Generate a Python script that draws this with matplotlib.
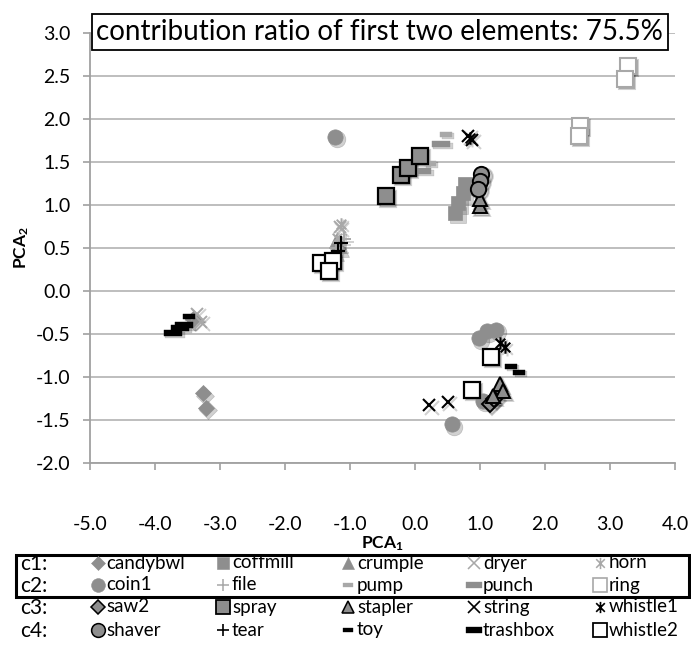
import matplotlib
matplotlib.use("Agg")
import matplotlib.pyplot as plt
from matplotlib.path import Path
from matplotlib.patches import Rectangle
from matplotlib.transforms import ScaledTranslation
from matplotlib.lines import Line2D

plt.rcParams['font.family'] = ['Lato', 'DejaVu Sans']
plt.rcParams['mathtext.fontset'] = 'custom'
plt.rcParams['mathtext.rm'] = 'Lato'
plt.rcParams['mathtext.bf'] = 'Lato:bold'

# ---- PCA scores per sound class (PC1, PC2) ----
candybwl_pc1 = [-3.26, -3.22, -3.42]
candybwl_pc2 = [-1.19, -1.36, -0.33]
coffmill_pc1 = [0.62, 0.66, 0.74, 0.77]
coffmill_pc2 = [0.91, 1.02, 1.14, 1.24]
crumple_pc1 = [-1.21, -1.17, -1.25]
crumple_pc2 = [0.58, 0.52, 0.47]
dryer_pc1 = [-3.35, -3.30, -1.15]
dryer_pc2 = [-0.27, -0.36, 0.74]
horn_pc1 = [-1.14, -1.20]
horn_pc2 = [0.78, 0.62]

coin1_pc1 = [-1.23, 1.10, 1.25, 0.98, 0.57, 1.05]
coin1_pc2 = [1.79, -0.47, -0.45, -0.55, -1.55, -1.28]
file_pc1 = [-1.22, -1.10]
file_pc2 = [0.50, 0.60]
pump_pc1 = [0.48, 0.23]
pump_pc2 = [1.83, 1.49]
punch_pc1 = [0.40, 0.10]
punch_pc2 = [1.71, 1.40]
ring_pc1 = [3.28, 3.23, 2.54, 2.52]
ring_pc2 = [2.62, 2.47, 1.92, 1.80]

saw2_pc1 = [1.15, 1.22]
saw2_pc2 = [-1.31, -1.25]
spray_pc1 = [-0.45, -0.22, -0.11, 0.08]
spray_pc2 = [1.10, 1.35, 1.43, 1.57]
stapler_pc1 = [1.31, 1.35, 1.20, 1.00, 1.00]
stapler_pc2 = [-1.08, -1.16, -1.22, 0.99, 1.07]
string_pc1 = [0.22, 0.51, 0.82, 0.88]
string_pc2 = [-1.33, -1.29, 1.80, 1.76]
whistle1_pc1 = [1.30, 1.38, 0.85]
whistle1_pc2 = [-0.60, -0.65, 1.78]

shaver_pc1 = [1.02, 1.00, 0.97]
shaver_pc2 = [1.36, 1.28, 1.19]
tear_pc1 = [-1.14, -1.18]
tear_pc2 = [0.56, 0.47]
toy_pc1 = [1.48, 1.60, -3.48]
toy_pc2 = [-0.87, -0.94, -0.29]
trashbox_pc1 = [-3.62, -3.73, -3.55]
trashbox_pc2 = [-0.43, -0.49, -0.40]
whistle2_pc1 = [-1.45, -1.26, -1.32, 1.17, 0.88]
whistle2_pc2 = [0.33, 0.35, 0.23, -0.77, -1.15]

group_labels = ["c1:", "c2:", "c3:", "c4:"]
title_text = "contribution ratio of first two elements: 75.5%"

# ---- marker shapes ----
def rect_marker(w, h):
    return Path([(-w, -h), (w, -h), (w, h), (-w, h), (-w, -h)],
                [Path.MOVETO, Path.LINETO, Path.LINETO, Path.LINETO, Path.CLOSEPOLY])

SHORT_DASH = rect_marker(1.0, 0.45)
LONG_DASH = rect_marker(1.0, 0.32)
ASTER = Path([(-1, -1), (1, 1), (-1, 1), (1, -1), (0, -1.3), (0, 1.3)],
             [Path.MOVETO, Path.LINETO, Path.MOVETO, Path.LINETO, Path.MOVETO, Path.LINETO])

G = '#8e8e8e'
LG = '#a8a8a8'
K = '#000000'

# name, x, y, marker, size, face, edge, edge width
series = [
    ("candybwl", candybwl_pc1, candybwl_pc2, 'D', 8, G, G, 0.5),
    ("coffmill", coffmill_pc1, coffmill_pc2, 's', 10, G, G, 0.5),
    ("crumple", crumple_pc1, crumple_pc2, '^', 10, G, G, 0.5),
    ("dryer", dryer_pc1, dryer_pc2, 'x', 9, 'none', LG, 1.4),
    ("horn", horn_pc1, horn_pc2, ASTER, 9, 'none', LG, 1.4),
    ("coin1", coin1_pc1, coin1_pc2, 'o', 11, G, G, 0.5),
    ("file", file_pc1, file_pc2, '+', 10, 'none', LG, 1.4),
    ("pump", pump_pc1, pump_pc2, SHORT_DASH, 8, LG, LG, 0.3),
    ("punch", punch_pc1, punch_pc2, LONG_DASH, 13, G, G, 0.3),
    ("ring", ring_pc1, ring_pc2, 's', 11, 'white', LG, 1.5),
    ("saw2", saw2_pc1, saw2_pc2, 'D', 8, G, K, 1.4),
    ("spray", spray_pc1, spray_pc2, 's', 11, G, K, 1.6),
    ("stapler", stapler_pc1, stapler_pc2, '^', 10, G, K, 1.4),
    ("string", string_pc1, string_pc2, 'x', 9, 'none', K, 1.5),
    ("whistle1", whistle1_pc1, whistle1_pc2, ASTER, 9, 'none', K, 1.5),
    ("shaver", shaver_pc1, shaver_pc2, 'o', 11, G, K, 1.4),
    ("tear", tear_pc1, tear_pc2, '+', 10, 'none', K, 1.5),
    ("toy", toy_pc1, toy_pc2, SHORT_DASH, 8, K, K, 0.3),
    ("trashbox", trashbox_pc1, trashbox_pc2, LONG_DASH, 13, K, K, 0.3),
    ("whistle2", whistle2_pc1, whistle2_pc2, 's', 11, 'white', K, 1.6),
]

W, H = 691, 647
fig = plt.figure(figsize=(W / 100, H / 100), dpi=100)

def fx(px):
    return px / W

def fy(py):
    return 1 - py / H

left, right, top, bottom = 90, 675, 33, 463
ax = fig.add_axes([fx(left), fy(bottom), fx(right - left), (bottom - top) / H])

AXC = '#a0a0a0'
ax.set_xlim(-5, 4)
ax.set_ylim(-2, 3)
ax.set_xticks([-5 + i for i in range(10)])
ax.set_yticks([-2 + 0.5 * i for i in range(11)])
ax.set_xticklabels([f"{v:.1f}" for v in ax.get_xticks()])
ax.set_yticklabels([f"{v:.1f}" for v in ax.get_yticks()])
ax.grid(axis='y', color='#b3b3b3', linewidth=1.2)
ax.set_axisbelow(True)
for s in ['top', 'right']:
    ax.spines[s].set_visible(False)
for s in ['left', 'bottom']:
    ax.spines[s].set_color(AXC)
    ax.spines[s].set_linewidth(1.3)
ax.tick_params(axis='both', colors=AXC, labelcolor='black', labelsize=14,
               length=5, width=1.2, direction='out')
ax.tick_params(axis='x', pad=33)
ax.tick_params(axis='y', pad=9)

# axis titles
fig.text(fx(382), fy(544), r"$\mathbf{PCA_1}$", fontsize=12.5, ha='center', va='center')
fig.text(fx(22), fy(248), r"$\mathbf{PCA_2}$", fontsize=12.5, ha='center', va='center',
         rotation=90)

shadow_t = ax.transData + ScaledTranslation(1.6 / 72, -1.6 / 72, fig.dpi_scale_trans)
for name, xs, ys, mk, ms, fc, ec, mew in series:
    ax.plot(xs, ys, linestyle='none', marker=mk, markersize=ms + 1,
            markerfacecolor='#000000' if fc != 'none' else 'none',
            markeredgecolor='#000000', markeredgewidth=mew, alpha=0.18,
            transform=shadow_t, zorder=2, clip_on=False)
    ax.plot(xs, ys, linestyle='none', marker=mk, markersize=ms,
            markerfacecolor=fc, markeredgecolor=ec, markeredgewidth=mew,
            zorder=3, clip_on=False)

# title box
fig.patches.append(Rectangle((fx(92), fy(50)), fx(668 - 92), (50 - 14) / H,
                             transform=fig.transFigure, facecolor='white',
                             edgecolor='black', linewidth=1.3, zorder=5))
fig.text(fx(96), fy(32), title_text, fontsize=20, va='center', ha='left', zorder=6)

# legend grid
row_y = [563, 585, 607, 630]
mark_x = [98, 223, 348, 474, 600]
text_x = [106, 232, 357, 483, 609]
for r in range(4):
    fig.text(fx(20), fy(row_y[r] + 1), group_labels[r], fontsize=15,
             va='center', ha='left')
    for c in range(5):
        name, xs, ys, mk, ms, fc, ec, mew = series[r * 5 + c]
        fig.add_artist(Line2D([fx(mark_x[c])], [fy(row_y[r])], transform=fig.transFigure,
                              linestyle='none', marker=mk, markersize=ms * 0.9,
                              markerfacecolor=fc, markeredgecolor=ec,
                              markeredgewidth=mew * 0.8))
        fig.text(fx(text_x[c]), fy(row_y[r]), name, fontsize=13.5,
                 va='center', ha='left')

fig.patches.append(Rectangle((fx(16), fy(597)), fx(689 - 16), (597 - 555) / H,
                             transform=fig.transFigure, facecolor='none',
                             edgecolor='black', linewidth=2.2))

fig.savefig("out.png", dpi=100)
